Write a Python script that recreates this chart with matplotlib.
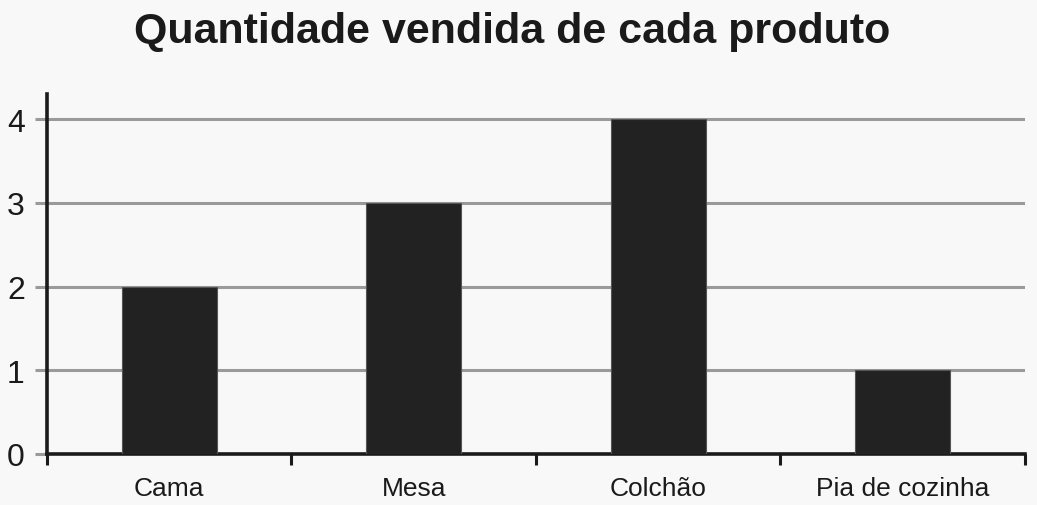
import numpy as np
import matplotlib.pyplot as plt

produtos = ['Cama', 'Mesa', 'Colchão', 'Pia de cozinha']
quantidade = [2, 3, 4, 1]
yticks = [0, 1, 2, 3, 4]

plt.rcParams['font.family'] = ['Liberation Sans', 'DejaVu Sans']

bg = '#f8f8f8'
fig = plt.figure(figsize=(10.37, 5.06), dpi=100, facecolor=bg)
ax = fig.add_axes([0.0453, 0.1008, 0.9431, 0.7115], facecolor=bg)

x = np.arange(len(produtos))
ax.bar(x, quantidade, width=0.39, color='#222222', edgecolor='#555555',
       linewidth=0.8, zorder=3)

ax.set_xlim(-0.5, len(produtos) - 0.5)
ax.set_ylim(0, 4.3)
ax.set_yticks(yticks)
ax.yaxis.grid(True, color='#9a9a9a', linewidth=2.2, zorder=1)
ax.set_axisbelow(True)

# ticks between categories, labels centred under bars
ax.set_xticks(np.arange(len(produtos) + 1) - 0.5)
ax.set_xticklabels([])
ax.set_xticks(x, minor=True)
ax.set_xticklabels(produtos, minor=True, fontsize=19, color='#1a1a1a')
ax.tick_params(axis='x', which='major', direction='out', length=8,
               width=2.2, color='#1a1a1a')
ax.tick_params(axis='x', which='minor', length=0, pad=16)
ax.tick_params(axis='y', direction='out', length=9, width=2.2,
               color='#9a9a9a', labelsize=23, labelcolor='#1a1a1a', pad=7)

for side in ['top', 'right']:
    ax.spines[side].set_visible(False)
for side in ['left', 'bottom']:
    ax.spines[side].set_linewidth(2.6)
    ax.spines[side].set_color('#1a1a1a')

fig.text(0.494, 0.937, 'Quantidade vendida de cada produto', ha='center',
         va='center', fontsize=31, fontweight='bold', color='#1a1a1a')

fig.savefig('out.png', dpi=100, facecolor=bg)
